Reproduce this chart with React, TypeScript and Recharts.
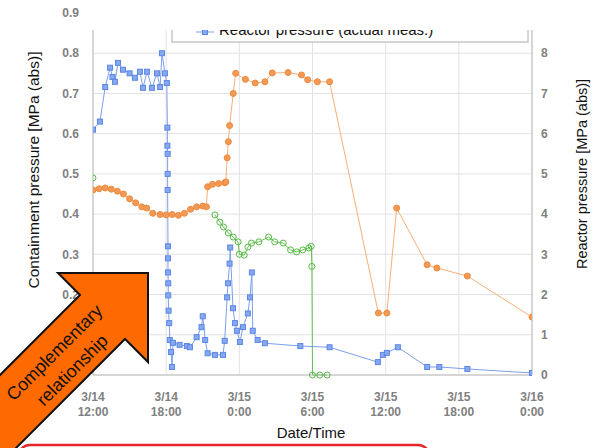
import React from 'react';
import { LineChart, Line, XAxis, YAxis, CartesianGrid } from 'recharts';

// hours after 3/14 12:00
const xTicks = [0, 6, 12, 18, 24, 30, 36];
const tickDates = ['3/14', '3/14', '3/15', '3/15', '3/15', '3/15', '3/16'];
const tickTimes = ['12:00', '18:00', '0:00', '6:00', '12:00', '18:00', '0:00'];
const leftTicks = [0, 0.1, 0.2, 0.3, 0.4, 0.5, 0.6, 0.7, 0.8, 0.9];
const rightTicks = [0, 1, 2, 3, 4, 5, 6, 7, 8];

// containment pressure (orange), MPa abs
const orangeHours = [0, 0.5, 1, 1.5, 2, 2.5, 3, 3.5, 4, 4.4, 4.9, 5.5, 6, 6.5, 7, 7.5, 8, 8.5, 9, 9.3, 9.4, 9.8, 10.3, 10.8, 10.9, 11.0, 11.1, 11.2, 11.5, 11.7, 12.5, 13.3, 14.1, 14.7, 16.0, 17.1, 17.6, 18.4, 19.4, 23.4, 24.1, 24.9, 27.4, 28.2, 30.7, 36];
const orangeValues = [0.46, 0.463, 0.465, 0.462, 0.457, 0.45, 0.438, 0.428, 0.418, 0.415, 0.402, 0.399, 0.398, 0.399, 0.397, 0.402, 0.412, 0.418, 0.42, 0.418, 0.468, 0.474, 0.476, 0.478, 0.48, 0.54, 0.58, 0.62, 0.7, 0.75, 0.735, 0.726, 0.729, 0.751, 0.752, 0.746, 0.734, 0.729, 0.729, 0.154, 0.154, 0.415, 0.274, 0.266, 0.246, 0.144];

// second containment reading (green)
const greenHours = [0, 5, 10.0, 10.4, 10.7, 11.1, 11.5, 11.9, 12.0, 12.4, 12.7, 13.0, 13.6, 14.4, 14.9, 15.6, 16.2, 16.7, 17.2, 17.7, 17.9, 17.95, 18.0, 18.6, 19.2];
const greenValues = [0.49, null, 0.398, 0.38, 0.368, 0.353, 0.343, 0.331, 0.3, 0.298, 0.318, 0.328, 0.331, 0.343, 0.331, 0.328, 0.311, 0.306, 0.311, 0.316, 0.32, 0.27, 0, 0, 0];

// reactor pressure (blue), MPa abs, right axis
const blueHours = [0, 0.57, 1.0, 1.4, 1.6, 1.8, 2.05, 2.46, 3.0, 3.44, 3.85, 4.1, 4.43, 4.84, 5.25, 5.5, 5.66, 5.9, 6.05, 6.1, 6.1, 6.12, 6.12, 6.12, 6.15, 6.15, 6.15, 6.17, 6.17, 6.2, 6.25, 6.3, 6.4, 6.48, 6.56, 7.1, 7.7, 7.95, 8.5, 8.9, 9.0, 9.2, 9.4, 10.0, 10.66, 10.8, 11.0, 11.07, 11.2, 11.25, 11.48, 11.64, 11.8, 12.05, 12.3, 12.7, 12.87, 13.03, 13.1, 13.5, 14.1, 17.0, 19.4, 23.36, 23.77, 24.1, 25.0, 27.4, 28.4, 30.7, 36];
const blueValues = [6.1, 6.3, 7.16, 7.64, 7.41, 7.29, 7.76, 7.59, 7.5, 7.39, 7.54, 7.14, 7.54, 7.14, 7.5, 7.16, 8.0, 7.5, 7.26, 6.15, 5.7, 5.5, 5.0, 4.6, 3.2, 2.9, 2.55, 2.28, 1.98, 1.6, 1.29, 0.87, 0.57, 0.2, 0.8, 0.75, 0.72, 0.69, 0.94, 1.19, 1.46, 0.87, 0.54, 0.5, 0.5, 0.85, 1.93, 2.28, 2.77, 3.17, 1.66, 1.29, 1.1, 0.82, 1.19, 1.53, 1.93, 2.55, 1.1, 0.87, 0.79, 0.72, 0.69, 0.32, 0.5, 0.55, 0.69, 0.2, 0.2, 0.15, 0.05];

const orangeData = orangeHours.map((h, i) => ({ h, v: orangeValues[i] }));
const greenData = greenHours.map((h, i) => ({ h, v: greenValues[i] }));
const blueData = blueHours.map((h, i) => ({ h, r: blueValues[i] }));

const tickStyle = { fill: '#808080', fontSize: 12, fontWeight: 'bold' as const };

const XTick = (props: any) => {
  const { x, y, payload } = props;
  const i = xTicks.indexOf(payload.value);
  return (
    <g>
      <text x={x} y={y + 24} textAnchor="middle" {...tickStyle}>{tickDates[i]}</text>
      <text x={x} y={y + 39} textAnchor="middle" {...tickStyle}>{tickTimes[i]}</text>
    </g>
  );
};

const SquareDot = (props: any) => {
  const { cx, cy, key } = props;
  if (cx == null || cy == null) return <g key={key} />;
  return <rect key={key} x={cx - 2.5} y={cy - 2.5} width={5} height={5} fill="#86a8f0" stroke="#5b87e3" strokeWidth={1} />;
};

export default function App() {
  return (
    <div style={{ position: 'absolute', left: 0, top: 0, width: 605, height: 448, background: '#fff', fontFamily: 'Liberation Sans, Arial, sans-serif' }}>
      <LineChart width={605} height={448} margin={{ top: 13, right: 0, bottom: 0, left: 0 }}>
        <CartesianGrid yAxisId="left" stroke="#e2e2e2" />
        <XAxis
          dataKey="h"
          type="number"
          domain={[0, 36]}
          ticks={xTicks}
          height={73}
          tickLine={false}
          tickSize={0}
          stroke="#bbb"
          tick={<XTick />}
          allowDataOverflow
        />
        <YAxis
          yAxisId="left"
          domain={[0, 0.9]}
          ticks={leftTicks}
          width={93}
          tickLine={false}
          tickSize={0}
          tickMargin={14}
          stroke="#bbb"
          tick={tickStyle}
        />
        <YAxis
          yAxisId="right"
          orientation="right"
          domain={[0, 9]}
          ticks={rightTicks}
          width={73}
          tickLine={false}
          tickSize={0}
          tickMargin={9}
          stroke="#bbb"
          tick={{ ...tickStyle, textAnchor: 'start' }}
        />
        <Line
          yAxisId="left"
          data={orangeData}
          dataKey="v"
          stroke="#f6b079"
          strokeWidth={1}
          dot={{ r: 3, fill: '#f29a55', stroke: '#ee8a3c', strokeWidth: 1 }}
          isAnimationActive={false}
        />
        <Line
          yAxisId="left"
          data={greenData}
          dataKey="v"
          stroke="#62c150"
          strokeWidth={1}
          dot={{ r: 3, fill: 'none', stroke: '#55bb44', strokeWidth: 1 }}
          isAnimationActive={false}
        />
        <Line
          yAxisId="right"
          data={blueData}
          dataKey="r"
          stroke="#7b9fea"
          strokeWidth={1}
          dot={<SquareDot />}
          isAnimationActive={false}
        />
      </LineChart>
      <svg width={605} height={448} style={{ position: 'absolute', left: 0, top: 0, pointerEvents: 'none' }}>
        <rect x={172} y={14} width={356} height={28} fill="#fff" stroke="#c8c8c8" strokeWidth={1.5} />
        <line x1={196} y1={32} x2={214} y2={32} stroke="#7b9fea" strokeWidth={1} />
        <rect x={202.5} y={29.5} width={5} height={5} fill="#86a8f0" stroke="#5b87e3" />
        <text x={219} y={35} fontSize={15} fill="#111">Reactor pressure (actual meas.)</text>
        <rect x={84} y={0} width={521} height={30} fill="#fff" />
        <text transform="translate(39,170) rotate(-90)" textAnchor="middle" fontSize={15.5} fill="#111">
          Containment pressure [MPa (abs)]
        </text>
        <text transform="translate(587,174) rotate(-90)" textAnchor="middle" fontSize={14.5} fill="#111">
          Reactor pressure [MPa (abs)]
        </text>
        <text x={311} y={438} textAnchor="middle" fontSize={15} fill="#111">Date/Time</text>
        <polygon
          points="148,273 148,362 125,339 -20,484 -80,455 80,295 58,273"
          fill="#ff6a00"
          stroke="#111"
          strokeWidth={2}
          strokeLinejoin="miter"
        />
        <g transform="translate(63,361) rotate(-45)">
          <text x={0} y={-6} textAnchor="middle" fontSize={18} fill="#111">Complementary</text>
          <text x={0} y={19} textAnchor="middle" fontSize={18} fill="#111">relationship</text>
        </g>
        <rect x={18} y={445} width={412} height={40} rx={12} fill="#fff" stroke="#e8262a" strokeWidth={2.5} />
      </svg>
    </div>
  );
}
